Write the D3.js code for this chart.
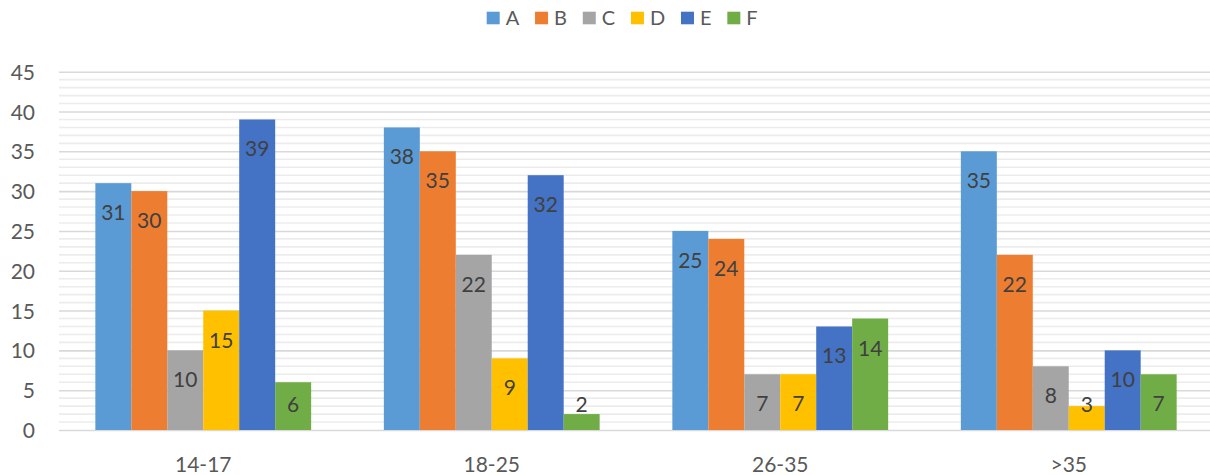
<!DOCTYPE html>
<html>
<head>
<meta charset="utf-8">
<script src="https://cdn.jsdelivr.net/npm/d3@7"></script>
<style>
  html, body { margin: 0; padding: 0; background: #fff; }
  svg { display: block; font-family: Lato, "Open Sans", sans-serif; }
</style>
</head>
<body>
<svg id="chart" width="1210" height="475"></svg>
<script>
// Age groups on the x axis
const categories = ["14-17", "18-25", "26-35", ">35"];
// Series names and their values per age group
const seriesNames = ["A", "B", "C", "D", "E", "F"];
const seriesA = [31, 38, 25, 35];
const seriesB = [30, 35, 24, 22];
const seriesC = [10, 22, 7, 8];
const seriesD = [15, 9, 7, 3];
const seriesE = [39, 32, 13, 10];
const seriesF = [6, 2, 14, 7];
const yTicks = [0, 5, 10, 15, 20, 25, 30, 35, 40, 45];

const seriesValues = [seriesA, seriesB, seriesC, seriesD, seriesE, seriesF];
const colors = ["#5b9bd5", "#ed7d31", "#a5a5a5", "#ffc000", "#4472c4", "#70ad47"];

const svg = d3.select("#chart");
const plot = { left: 59, right: 1213, top: 71.7, bottom: 430 };

const x0 = d3.scaleBand()
  .domain(categories)
  .range([plot.left, plot.right])
  .paddingInner(0.252)
  .paddingOuter(0.126);

const x1 = d3.scaleBand()
  .domain(seriesNames)
  .range([0, x0.bandwidth()]);

const y = d3.scaleLinear().domain([0, 45]).range([plot.bottom, plot.top]);

// Minor gridlines every unit
const minor = d3.range(0, 46).filter(v => v % 5 !== 0);
svg.append("g").selectAll("line").data(minor).join("line")
  .attr("x1", plot.left).attr("x2", plot.right)
  .attr("y1", d => y(d)).attr("y2", d => y(d))
  .attr("stroke", "#ececec").attr("stroke-width", 1.6);

// Major gridlines with tick labels
const yAxis = d3.axisLeft(y).tickValues(yTicks).tickSize(0).tickPadding(0);
const gy = svg.append("g").attr("transform", `translate(${plot.left},0)`).call(yAxis);
gy.select(".domain").remove();
gy.selectAll(".tick line")
  .attr("x2", plot.right - plot.left)
  .attr("stroke", "#d9d9d9").attr("stroke-width", 1.6);
gy.selectAll(".tick text")
  .attr("x", 35 - plot.left)
  .attr("dy", "0.36em")
  .attr("fill", "#595959")
  .style("font-size", "21px")
  .style("font-family", "Lato, 'Open Sans', sans-serif");

// Category axis labels
const xAxis = d3.axisBottom(x0).tickSize(0).tickPadding(0);
const gx = svg.append("g").attr("transform", `translate(0,${plot.bottom})`).call(xAxis);
gx.select(".domain").remove();
gx.selectAll(".tick text")
  .attr("y", 41.5).attr("dy", 0)
  .attr("fill", "#595959")
  .style("font-size", "21px")
  .style("font-family", "Lato, 'Open Sans', sans-serif");

// Bars
const rows = [];
categories.forEach((c, ci) => {
  seriesNames.forEach((s, si) => {
    rows.push({ cat: c, series: s, value: seriesValues[si][ci], color: colors[si] });
  });
});

const bars = svg.append("g");
bars.selectAll("rect").data(rows).join("rect")
  .attr("x", d => x0(d.cat) + x1(d.series))
  .attr("y", d => y(d.value))
  .attr("width", x1.bandwidth())
  .attr("height", d => y(0) - y(d.value))
  .attr("fill", d => d.color);

// Value labels at the inside end of each bar
bars.selectAll("text").data(rows).join("text")
  .attr("x", d => x0(d.cat) + x1(d.series) + x1.bandwidth() / 2)
  .attr("y", d => Math.min(y(d.value) + 37, y(0) - 18.5))
  .attr("text-anchor", "middle")
  .attr("fill", "#404040")
  .style("font-size", "21px")
  .text(d => d.value);

// Legend
const legend = svg.append("g");
let lx = 0;
seriesNames.forEach((s, i) => {
  const item = legend.append("g").attr("transform", `translate(${lx},0)`);
  item.append("rect").attr("x", 0).attr("y", 11.7).attr("width", 13).attr("height", 12.6).attr("fill", colors[i]);
  const t = item.append("text").attr("x", 19).attr("y", 25.3)
    .attr("fill", "#595959").style("font-size", "20px").text(s);
  lx += 19 + t.node().getComputedTextLength() + 15.8;
});
legend.attr("transform", "translate(486.7,0)");
</script>
</body>
</html>
